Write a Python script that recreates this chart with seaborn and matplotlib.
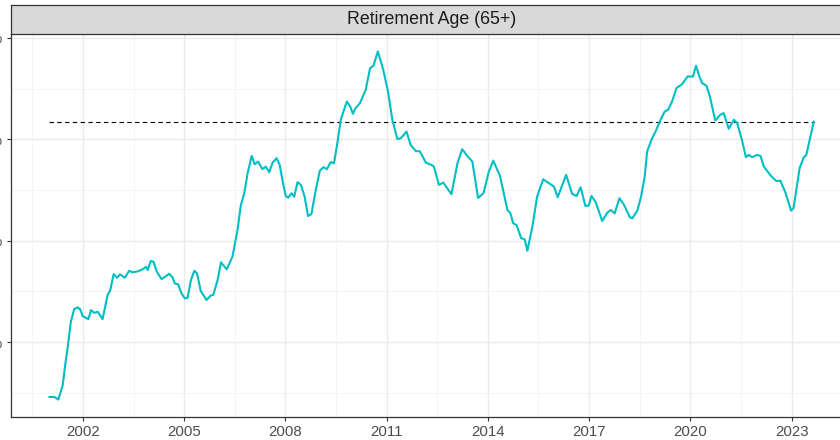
import numpy as np
import pandas as pd
import seaborn as sns
import matplotlib
matplotlib.use("Agg")
import matplotlib.pyplot as plt
from matplotlib.ticker import FixedLocator, FuncFormatter

# series (decimal year, rate in %)
years = [
    2001.00, 2001.15, 2001.27, 2001.40, 2001.48, 2001.55, 2001.64, 2001.74, 2001.84, 2001.92,
    2001.99, 2002.16, 2002.24, 2002.33, 2002.44, 2002.58, 2002.73, 2002.81, 2002.91, 2003.01,
    2003.10, 2003.24, 2003.37, 2003.47, 2003.62, 2003.77, 2003.87, 2003.92, 2004.01, 2004.09,
    2004.19, 2004.33, 2004.46, 2004.56, 2004.66, 2004.72, 2004.82, 2004.92, 2005.02, 2005.10,
    2005.20, 2005.30, 2005.38, 2005.49, 2005.66, 2005.79, 2005.86, 2005.99, 2006.09, 2006.26,
    2006.43, 2006.58, 2006.68, 2006.78, 2006.88, 2007.00, 2007.09, 2007.19, 2007.32, 2007.42,
    2007.52, 2007.62, 2007.74, 2007.83, 2007.93, 2008.01, 2008.08, 2008.18, 2008.26, 2008.36,
    2008.46, 2008.57, 2008.67, 2008.77, 2008.90, 2009.02, 2009.13, 2009.23, 2009.34, 2009.44,
    2009.54, 2009.64, 2009.82, 2009.92, 2010.00, 2010.08, 2010.21, 2010.38, 2010.51, 2010.61,
    2010.74, 2010.90, 2011.04, 2011.17, 2011.32, 2011.42, 2011.59, 2011.71, 2011.86, 2011.99,
    2012.16, 2012.33, 2012.40, 2012.55, 2012.68, 2012.92, 2013.10, 2013.24, 2013.39, 2013.54,
    2013.71, 2013.87, 2014.03, 2014.16, 2014.36, 2014.58, 2014.67, 2014.75, 2014.85, 2014.99,
    2015.09, 2015.17, 2015.32, 2015.46, 2015.64, 2015.96, 2016.07, 2016.32, 2016.50, 2016.63,
    2016.75, 2016.89, 2016.99, 2017.07, 2017.19, 2017.39, 2017.54, 2017.64, 2017.76, 2017.90,
    2018.03, 2018.21, 2018.28, 2018.43, 2018.54, 2018.65, 2018.72, 2018.87, 2018.97, 2019.12,
    2019.24, 2019.34, 2019.46, 2019.59, 2019.76, 2019.92, 2020.08, 2020.17, 2020.27, 2020.35,
    2020.48, 2020.58, 2020.74, 2020.89, 2020.99, 2021.14, 2021.29, 2021.39, 2021.53, 2021.65,
    2021.73, 2021.83, 2021.98, 2022.08, 2022.18, 2022.39, 2022.55, 2022.67, 2022.82, 2022.99,
    2023.06, 2023.24, 2023.36, 2023.44, 2023.66,
]
rate = [
    0.460, 0.460, 0.434, 0.576, 0.793, 0.954, 1.200, 1.326, 1.343, 1.323,
    1.257, 1.227, 1.316, 1.289, 1.299, 1.227, 1.464, 1.513, 1.671, 1.635,
    1.668, 1.635, 1.704, 1.688, 1.698, 1.718, 1.743, 1.711, 1.800, 1.793,
    1.694, 1.622, 1.652, 1.674, 1.635, 1.579, 1.570, 1.481, 1.431, 1.437,
    1.612, 1.704, 1.678, 1.506, 1.415, 1.461, 1.464, 1.612, 1.787, 1.718,
    1.842, 2.106, 2.352, 2.468, 2.665, 2.836, 2.754, 2.780, 2.705, 2.731,
    2.675, 2.770, 2.813, 2.747, 2.567, 2.441, 2.424, 2.468, 2.434, 2.577,
    2.550, 2.434, 2.244, 2.261, 2.500, 2.691, 2.725, 2.705, 2.774, 2.764,
    2.962, 3.192, 3.372, 3.323, 3.251, 3.307, 3.356, 3.488, 3.702, 3.725,
    3.866, 3.685, 3.471, 3.192, 3.001, 3.011, 3.076, 2.945, 2.885, 2.879,
    2.770, 2.747, 2.731, 2.550, 2.573, 2.458, 2.764, 2.902, 2.836, 2.780,
    2.422, 2.468, 2.681, 2.790, 2.639, 2.303, 2.270, 2.172, 2.155, 2.024,
    2.014, 1.901, 2.138, 2.434, 2.606, 2.533, 2.428, 2.649, 2.461, 2.441,
    2.527, 2.343, 2.346, 2.441, 2.385, 2.194, 2.276, 2.303, 2.270, 2.419,
    2.357, 2.231, 2.221, 2.296, 2.434, 2.632, 2.879, 3.011, 3.076, 3.192,
    3.273, 3.290, 3.372, 3.504, 3.544, 3.619, 3.619, 3.725, 3.619, 3.554,
    3.527, 3.422, 3.185, 3.241, 3.258, 3.103, 3.192, 3.159, 2.994, 2.823,
    2.846, 2.823, 2.846, 2.836, 2.731, 2.639, 2.589, 2.592, 2.474, 2.296,
    2.320, 2.715, 2.819, 2.846, 3.175,
]
panel_title = "Retirement Age (65+)"
x_ticks = [2002, 2005, 2008, 2011, 2014, 2017, 2020, 2023]
y_ticks = [1, 2, 3, 4]

df = pd.DataFrame({"year": years, "rate": rate})

sns.set_theme(style="white")
plt.rcParams['font.family'] = ['Liberation Sans', 'DejaVu Sans']

fig = plt.figure(figsize=(8.4, 4.4), dpi=100)
# panel runs slightly off the right edge, like the cropped original
ax = fig.add_axes([11 / 840, 23 / 440, 841 / 840, 383 / 440])

# ggplot-ish expansion of 5% on both axes
xr = max(years) - min(years)
yr = max(rate) - min(rate)
ax.set_xlim(min(years) - 0.05 * xr, max(years) + 0.05 * xr)
ax.set_ylim(min(rate) - 0.05 * yr, max(rate) + 0.05 * yr)

ax.xaxis.set_major_locator(FixedLocator(x_ticks))
ax.xaxis.set_minor_locator(FixedLocator([x - 1.5 for x in x_ticks] + [x_ticks[-1] + 1.5]))
ax.yaxis.set_major_locator(FixedLocator(y_ticks))
ax.yaxis.set_minor_locator(FixedLocator([y - 0.5 for y in y_ticks]))
ax.xaxis.set_major_formatter(FuncFormatter(lambda v, p: f"{int(v)}"))
ax.yaxis.set_major_formatter(FuncFormatter(lambda v, p: f"{v:.1f}%"))

ax.grid(True, which="major", color="#EBEBEB", linewidth=1.0)
ax.grid(True, which="minor", color="#F2F2F2", linewidth=0.6)
ax.set_axisbelow(True)

ax.hlines(rate[-1], min(years), max(years), colors="black",
          linestyles=(0, (4, 3)), linewidth=0.8, zorder=2)
sns.lineplot(data=df, x="year", y="rate", color="#00BFC4", linewidth=1.5, ax=ax, zorder=3)

ax.set_xlabel("")
ax.set_ylabel("")
for side in ["left", "bottom", "right"]:
    ax.spines[side].set_color("#333333")
    ax.spines[side].set_linewidth(0.9)
ax.spines["top"].set_visible(False)
ax.tick_params(axis="both", which="major", length=3, width=0.8, color="#333333",
               labelsize=10.8, labelcolor="#4D4D4D", pad=3)
ax.tick_params(axis="both", which="minor", length=0)
ax.tick_params(axis="x", bottom=True)
ax.tick_params(axis="y", left=True)

# facet strip
sx = fig.add_axes([11 / 840, 406 / 440, 841 / 840, 29 / 440])
sx.set_facecolor("#D9D9D9")
sx.set_xticks([])
sx.set_yticks([])
for s in sx.spines.values():
    s.set_color("#333333")
    s.set_linewidth(0.9)
sx.text(0.5, 0.5, panel_title, ha="center", va="center", fontsize=12.8,
        color="#1A1A1A", transform=sx.transAxes)

fig.savefig("out.png", dpi=100)
